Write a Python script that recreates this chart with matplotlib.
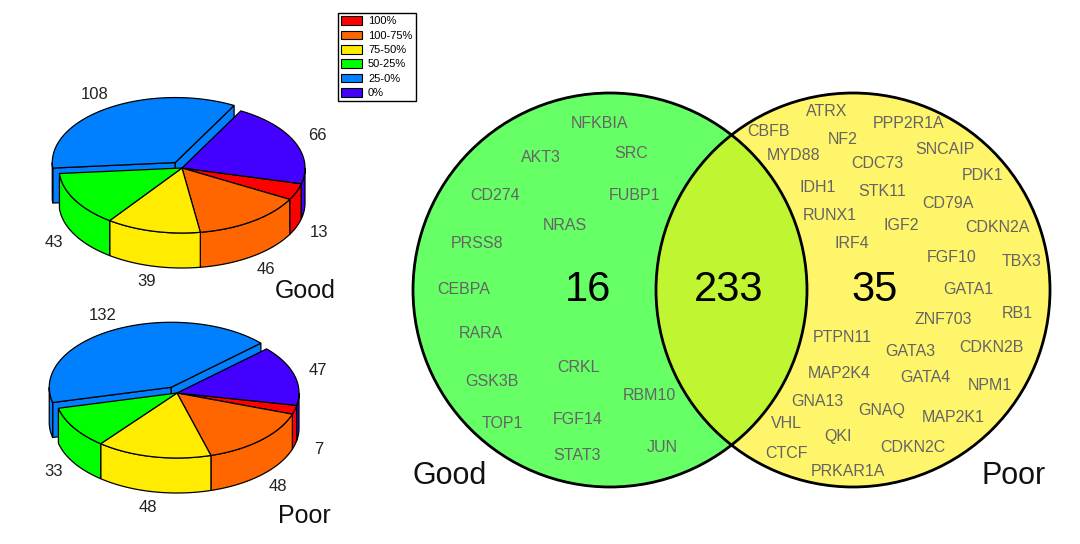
import numpy as np
import matplotlib; matplotlib.use("Agg")
import matplotlib.pyplot as plt
from matplotlib.patches import Polygon, Circle, Patch

plt.rcParams['font.family'] = ['Liberation Sans', 'DejaVu Sans']

# data
bins = ["100%", "100-75%", "75-50%", "50-25%", "25-0%", "0%"]
good_counts = [13, 46, 39, 43, 108, 66]
poor_counts = [7, 48, 48, 33, 132, 47]
bin_colors = ["#ff0000", "#ff6600", "#ffec00", "#00ff00", "#0080ff", "#4400ff"]

good_only = ["NFKBIA", "AKT3", "SRC", "CD274", "FUBP1", "NRAS", "PRSS8", "CEBPA",
             "RARA", "CRKL", "GSK3B", "RBM10", "TOP1", "FGF14", "STAT3", "JUN"]
poor_only = ["ATRX", "CBFB", "PPP2R1A", "NF2", "MYD88", "SNCAIP", "CDC73", "PDK1",
             "IDH1", "STK11", "CD79A", "RUNX1", "IGF2", "CDKN2A", "IRF4", "FGF10",
             "TBX3", "GATA1", "RB1", "ZNF703", "PTPN11", "CDKN2B", "GATA3", "MAP2K4",
             "GATA4", "NPM1", "GNA13", "GNAQ", "MAP2K1", "VHL", "QKI", "CTCF",
             "CDKN2C", "PRKAR1A"]
n_good, n_both, n_poor = 16, 233, 35

# layout (pixel positions of gene names)
good_pos = [(600, 123), (541, 157), (631, 154), (495, 195), (634, 195), (565, 226),
            (477, 243), (464, 289), (481, 333), (578, 368), (492, 382), (649, 396),
            (502, 424), (578, 419), (577, 456), (662, 447)]
poor_pos = [(827, 112), (768, 132), (909, 124), (843, 139), (794, 155), (945, 150),
            (877, 164), (983, 175), (818, 187), (882, 192), (948, 203), (830, 216),
            (901, 226), (997, 228), (852, 244), (952, 257), (1022, 262), (968, 289),
            (1017, 314), (943, 320), (842, 338), (991, 347), (910, 351), (839, 373),
            (925, 378), (990, 385), (817, 401), (882, 411), (953, 418), (786, 423),
            (838, 436), (786, 453), (913, 447), (848, 471)]

fig = plt.figure(figsize=(10.8, 5.44), dpi=100)
ax = fig.add_axes([0, 0, 1, 1])
ax.set_xlim(0, 1080); ax.set_ylim(544, 0); ax.axis("off")


def arc(cx, cy, a, b, t0, t1, n=60):
    t = np.radians(np.linspace(t0, t1, n))
    return np.column_stack([cx + a*np.cos(t), cy - b*np.sin(t)])


def pie3d(vals, cx, cy, a, b, depth, start, exp_idx, exp=0.1, title=""):
    vals = np.asarray(vals, float)
    spans = vals/vals.sum()*360
    ends = start - np.concatenate([[0], np.cumsum(spans)])
    sl = []
    for i in range(len(vals)):
        t1, t2 = ends[i], ends[i+1]          # t2 < t1 (clockwise)
        m = (t1 + t2)/2
        e = exp if i == exp_idx else 0
        ox, oy = e*a*np.cos(np.radians(m)), -e*b*np.sin(np.radians(m))
        sl.append((i, t1, t2, m, ox, oy))

    def draw_slice(i, t1, t2, m, ox, oy, radial=False):
        c = bin_colors[i]
        x0, y0 = cx + ox, cy + oy
        if radial:
            for t in (t1, t2):
                r = arc(x0, y0, a, b, t, t, 2)[0]
                ax.add_patch(Polygon([(x0, y0), r, (r[0], r[1]+depth), (x0, y0+depth)],
                                     fc=c, ec="k", lw=0.9, zorder=2))
        # front part of the outer wall
        for k in range(-2, 2):
            lo, hi = max(t2, k*360-180), min(t1, k*360)
            if hi > lo:
                top = arc(x0, y0, a, b, lo, hi)
                bot = top[::-1] + [0, depth]
                ax.add_patch(Polygon(np.vstack([top, bot]), fc=c, ec="k", lw=0.9, zorder=2))
        ax.add_patch(Polygon(np.vstack([[(x0, y0)], arc(x0, y0, a, b, t1, t2)]),
                             fc=c, ec="k", lw=0.9, zorder=2))

    draw_slice(*sl[exp_idx], radial=True)
    for s in sl:
        if s[0] != exp_idx:
            draw_slice(*s)
    for (i, t1, t2, m, ox, oy) in sl:
        mr = np.radians(m)
        lx = cx + ox + 1.2*a*np.cos(mr)
        ly = cy + oy - 1.25*b*np.sin(mr) + (depth if np.sin(mr) < 0 else 0)
        ax.text(lx, ly, f"{int(vals[i])}", ha="center", va="center", fontsize=12, color="#222")
    ax.text(cx + 154, cy + 123, title, ha="right", va="center", fontsize=18, color="#111")


pie3d(good_counts, 182, 168, 123, 65, 35, -14, 4, title="Good")
pie3d(poor_counts, 177, 393, 122, 65, 35, -11, 4, title="Poor")

handles = [Patch(fc=c, ec="k", lw=0.8) for c in bin_colors]
ax.legend(handles, bins, loc="upper left", bbox_to_anchor=(338/1080, 1-13/544),
          bbox_transform=fig.transFigure, fontsize=8, fancybox=False, edgecolor="k",
          framealpha=1, borderpad=0.3, labelspacing=0.38, handlelength=1.9,
          handleheight=0.8, handletextpad=0.5, borderaxespad=0)

# venn
c1, c2, r = (610, 290), (853, 290), 197
ax.add_patch(Circle(c1, r, fc="#66ff66", ec="none", zorder=1))
ax.add_patch(Circle(c2, r, fc="#fff56a", ec="none", zorder=1))
h = (c2[0]-c1[0])/2
th = np.degrees(np.arccos(h/r))
lens = np.vstack([arc(c1[0], c1[1], r, r, -th, th), arc(c2[0], c2[1], r, r, 180-th, 180+th)])
ax.add_patch(Polygon(lens, fc="#c0f531", ec="none", zorder=1))
for c in (c1, c2):
    ax.add_patch(Circle(c, r, fc="none", ec="k", lw=2, zorder=3))

for g, (x, y) in zip(good_only, good_pos):
    ax.text(x, y, g, ha="center", va="center", fontsize=11.5, color="#646464", zorder=4)
for g, (x, y) in zip(poor_only, poor_pos):
    ax.text(x, y, g, ha="center", va="center", fontsize=11.5, color="#646464", zorder=4)

for n, x in zip([n_good, n_both, n_poor], [588, 729, 875]):
    ax.text(x, 290, str(n), ha="center", va="center", fontsize=30, color="k", zorder=4)
ax.text(413, 476, "Good", ha="left", va="center", fontsize=22, color="#111")
ax.text(1046, 476, "Poor", ha="right", va="center", fontsize=22, color="#111")

fig.savefig("out.png", dpi=100)
